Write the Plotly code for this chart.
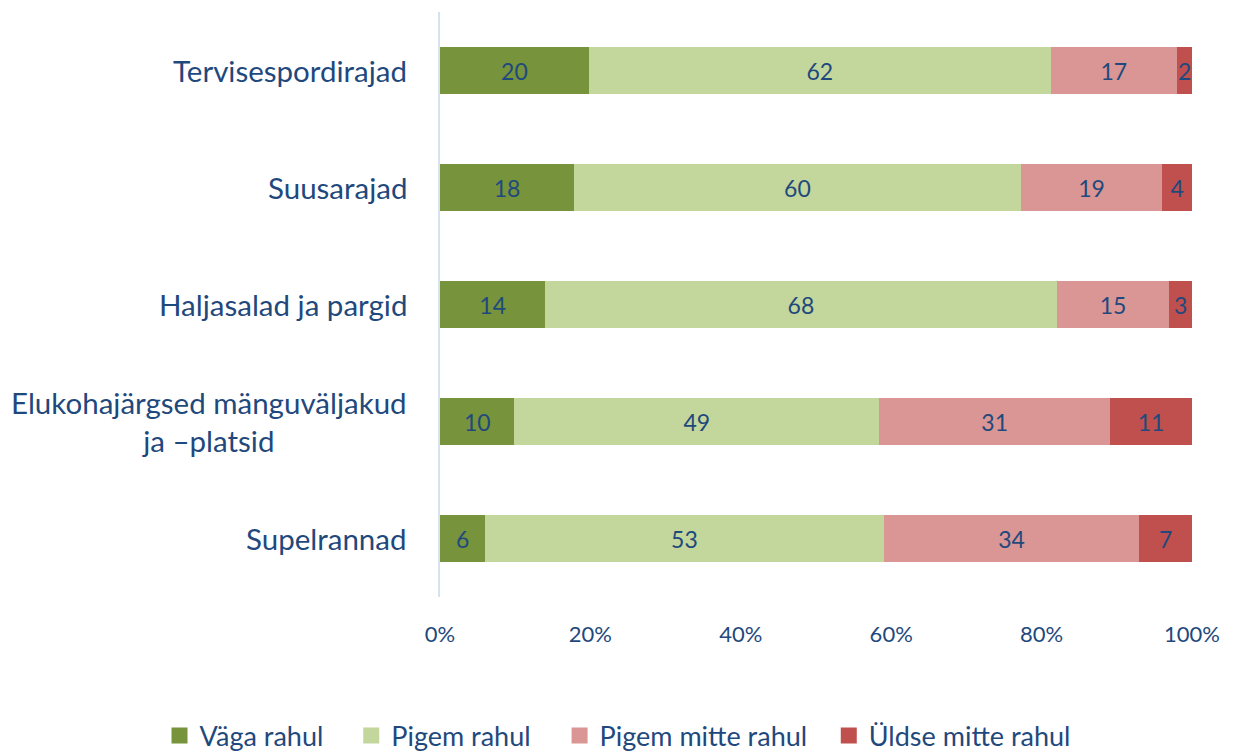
import plotly.graph_objects as go

categories = ["Tervisespordirajad", "Suusarajad", "Haljasalad ja pargid",
              "Elukohajärgsed mänguväljakud<br>ja –platsid", "Supelrannad"]
series_names = ["Väga rahul", "Pigem rahul", "Pigem mitte rahul", "Üldse mitte rahul"]
vaga_rahul = [20, 18, 14, 10, 6]
pigem_rahul = [62, 60, 68, 49, 53]
pigem_mitte_rahul = [17, 19, 15, 31, 34]
uldse_mitte_rahul = [2, 4, 3, 11, 7]
tick_vals = [0, 20, 40, 60, 80, 100]
tick_text = [f"{v}%" for v in tick_vals]

colors = ["#77933C", "#C3D69B", "#D99694", "#C0504D"]
text_color = "#1F497D"
FONT = "Lato"
legend_ids = ["legend", "legend2", "legend3", "legend4"]
legend_x = [-0.373, -0.118, 0.159, 0.517]

fig = go.Figure()
for name, vals, col in zip(series_names,
                           [vaga_rahul, pigem_rahul, pigem_mitte_rahul, uldse_mitte_rahul],
                           colors):
    fig.add_trace(go.Bar(
        y=categories, x=vals, name=name, orientation="h",
        marker=dict(color=col, line=dict(width=0)),
        text=[str(v) for v in vals], textposition="inside",
        insidetextanchor="middle", constraintext="none",
        textfont=dict(color=text_color, size=23, family=FONT),
        hoverinfo="skip", showlegend=False, legendgroup=name,
    ))
# legend-only entries with larger square swatches, one legend box each
for name, col, lid in zip(series_names, colors, legend_ids):
    fig.add_trace(go.Scatter(
        x=[None], y=[None], mode="markers", name=name, legendgroup=name,
        marker=dict(symbol="square", size=16, color=col),
        hoverinfo="skip", showlegend=True, legend=lid,
    ))

for c in categories:
    fig.add_annotation(x=0, xref="paper", y=c, yref="y", text=c,
                       xanchor="right", yanchor="middle", xshift=-31,
                       align="center", showarrow=False,
                       font=dict(color=text_color, size=29.5, family=FONT))

legend_layout = {}
for lid, lx in zip(legend_ids, legend_x):
    legend_layout[lid] = dict(orientation="h", x=lx, xref="paper", xanchor="left",
                              y=-0.2376, yref="paper", yanchor="middle",
                              font=dict(size=27, color=text_color, family=FONT),
                              itemwidth=30, bgcolor="rgba(0,0,0,0)")

fig.update_layout(
    barmode="stack", barnorm="percent", bargap=0.59,
    width=1227, height=745,
    margin=dict(l=432, r=43, t=4, b=156, autoexpand=False),
    paper_bgcolor="white", plot_bgcolor="white",
    font=dict(family=FONT, color=text_color),
    uniformtext=dict(minsize=23, mode="show"),
    showlegend=True,
    xaxis=dict(range=[0, 100], tickvals=tick_vals, ticktext=tick_text,
               showgrid=False, zeroline=False, showline=False,
               ticks="", ticklabelstandoff=22,
               tickfont=dict(size=22, color=text_color, family=FONT)),
    yaxis=dict(autorange="reversed", showticklabels=False, showgrid=False,
               showline=True, linecolor="#D5E3F1", linewidth=2,
               zeroline=False, ticks=""),
    **legend_layout,
)

fig.write_html("out.html")
